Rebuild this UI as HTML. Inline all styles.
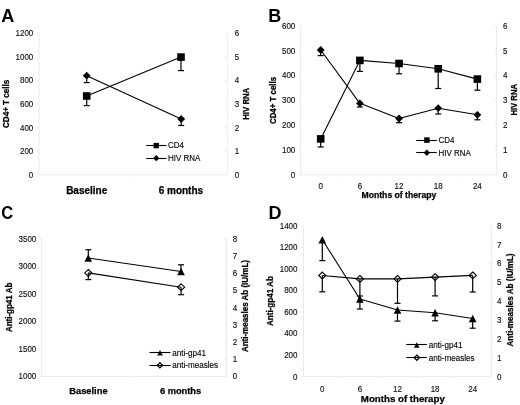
<!DOCTYPE html>
<html><head><meta charset="utf-8"><style>
html,body{margin:0;padding:0;background:#fff;width:520px;height:405px;overflow:hidden}
svg{display:block;font-family:"Liberation Sans",sans-serif;filter:blur(0.35px)}
text{stroke:#000;stroke-width:0.12px}
text[font-weight=bold]{stroke-width:0.25px}
text.big{stroke:none}
</style></head><body>
<svg width="520" height="405" viewBox="0 0 520 405">
<rect width="520" height="405" fill="#fff"/>
<text x="1.25" y="21.5" text-anchor="start" font-size="18" font-weight="bold" class="big" fill="#000">A</text>
<line x1="39.00" y1="33.30" x2="39.00" y2="174.80" stroke="#ebebeb" stroke-width="1"/>
<line x1="227.30" y1="33.30" x2="227.30" y2="174.80" stroke="#ebebeb" stroke-width="1"/>
<line x1="39.00" y1="174.80" x2="227.30" y2="174.80" stroke="#ebebeb" stroke-width="1"/>
<line x1="36.50" y1="174.80" x2="39.00" y2="174.80" stroke="#ebebeb" stroke-width="1"/>
<text transform="translate(33.3,177.7) scale(1,1.1)" text-anchor="end" font-size="8" font-weight="normal" fill="#111">0</text>
<line x1="36.50" y1="151.22" x2="39.00" y2="151.22" stroke="#ebebeb" stroke-width="1"/>
<text transform="translate(33.3,154.12) scale(1,1.1)" text-anchor="end" font-size="8" font-weight="normal" fill="#111">200</text>
<line x1="36.50" y1="127.63" x2="39.00" y2="127.63" stroke="#ebebeb" stroke-width="1"/>
<text transform="translate(33.3,130.53) scale(1,1.1)" text-anchor="end" font-size="8" font-weight="normal" fill="#111">400</text>
<line x1="36.50" y1="104.05" x2="39.00" y2="104.05" stroke="#ebebeb" stroke-width="1"/>
<text transform="translate(33.3,106.95) scale(1,1.1)" text-anchor="end" font-size="8" font-weight="normal" fill="#111">600</text>
<line x1="36.50" y1="80.47" x2="39.00" y2="80.47" stroke="#ebebeb" stroke-width="1"/>
<text transform="translate(33.3,83.37) scale(1,1.1)" text-anchor="end" font-size="8" font-weight="normal" fill="#111">800</text>
<line x1="36.50" y1="56.88" x2="39.00" y2="56.88" stroke="#ebebeb" stroke-width="1"/>
<text transform="translate(33.3,59.78) scale(1,1.1)" text-anchor="end" font-size="8" font-weight="normal" fill="#111">1000</text>
<line x1="36.50" y1="33.30" x2="39.00" y2="33.30" stroke="#ebebeb" stroke-width="1"/>
<text transform="translate(33.3,36.2) scale(1,1.1)" text-anchor="end" font-size="8" font-weight="normal" fill="#111">1200</text>
<line x1="224.80" y1="174.80" x2="227.30" y2="174.80" stroke="#ebebeb" stroke-width="1"/>
<text transform="translate(234.8,177.7) scale(1,1.1)" text-anchor="start" font-size="8" font-weight="normal" fill="#111">0</text>
<line x1="224.80" y1="151.22" x2="227.30" y2="151.22" stroke="#ebebeb" stroke-width="1"/>
<text transform="translate(234.8,154.12) scale(1,1.1)" text-anchor="start" font-size="8" font-weight="normal" fill="#111">1</text>
<line x1="224.80" y1="127.63" x2="227.30" y2="127.63" stroke="#ebebeb" stroke-width="1"/>
<text transform="translate(234.8,130.53) scale(1,1.1)" text-anchor="start" font-size="8" font-weight="normal" fill="#111">2</text>
<line x1="224.80" y1="104.05" x2="227.30" y2="104.05" stroke="#ebebeb" stroke-width="1"/>
<text transform="translate(234.8,106.95) scale(1,1.1)" text-anchor="start" font-size="8" font-weight="normal" fill="#111">3</text>
<line x1="224.80" y1="80.47" x2="227.30" y2="80.47" stroke="#ebebeb" stroke-width="1"/>
<text transform="translate(234.8,83.37) scale(1,1.1)" text-anchor="start" font-size="8" font-weight="normal" fill="#111">4</text>
<line x1="224.80" y1="56.88" x2="227.30" y2="56.88" stroke="#ebebeb" stroke-width="1"/>
<text transform="translate(234.8,59.78) scale(1,1.1)" text-anchor="start" font-size="8" font-weight="normal" fill="#111">5</text>
<line x1="224.80" y1="33.30" x2="227.30" y2="33.30" stroke="#ebebeb" stroke-width="1"/>
<text transform="translate(234.8,36.2) scale(1,1.1)" text-anchor="start" font-size="8" font-weight="normal" fill="#111">6</text>
<line x1="133.20" y1="174.80" x2="133.20" y2="177.30" stroke="#ebebeb" stroke-width="1"/>
<text x="86.7" y="194.2" text-anchor="middle" font-size="10" font-weight="bold" fill="#000">Baseline</text>
<text x="180.9" y="194.2" text-anchor="middle" font-size="10" font-weight="bold" fill="#000">6 months</text>
<text transform="translate(9.0,103.9) rotate(-90) scale(1,1.06)" text-anchor="middle" font-size="8.1" font-weight="bold" fill="#000">CD4+ T cells</text>
<text transform="translate(249.3,103.75) rotate(-90) scale(1,1.06)" text-anchor="middle" font-size="7.8" font-weight="bold" fill="#000">HIV RNA</text>
<line x1="86.70" y1="96.00" x2="86.70" y2="105.60" stroke="#000" stroke-width="1.2"/>
<line x1="83.70" y1="105.60" x2="89.70" y2="105.60" stroke="#000" stroke-width="1.2"/>
<line x1="181.00" y1="57.10" x2="181.00" y2="70.60" stroke="#000" stroke-width="1.2"/>
<line x1="178.00" y1="70.60" x2="184.00" y2="70.60" stroke="#000" stroke-width="1.2"/>
<line x1="86.70" y1="75.70" x2="86.70" y2="82.60" stroke="#000" stroke-width="1.2"/>
<line x1="83.70" y1="82.60" x2="89.70" y2="82.60" stroke="#000" stroke-width="1.2"/>
<line x1="181.20" y1="119.00" x2="181.20" y2="125.50" stroke="#000" stroke-width="1.2"/>
<line x1="178.20" y1="125.50" x2="184.20" y2="125.50" stroke="#000" stroke-width="1.2"/>
<polyline points="86.70,96.00 181.00,57.10" fill="none" stroke="#000" stroke-width="1.1" stroke-linejoin="round"/>
<polyline points="86.70,75.70 181.20,119.00" fill="none" stroke="#000" stroke-width="1.1" stroke-linejoin="round"/>
<rect x="82.90" y="92.20" width="7.6" height="7.6" fill="#000"/>
<rect x="177.20" y="53.30" width="7.6" height="7.6" fill="#000"/>
<polygon points="86.70,71.80 90.60,75.70 86.70,79.60 82.80,75.70" fill="#000"/>
<polygon points="181.20,115.10 185.10,119.00 181.20,122.90 177.30,119.00" fill="#000"/>
<line x1="146.20" y1="145.50" x2="166.50" y2="145.50" stroke="#000" stroke-width="1.1"/>
<rect x="153.60" y="142.90" width="5.4" height="5.4" fill="#000"/>
<text transform="translate(168,148.3) scale(1,1.1)" text-anchor="start" font-size="8" font-weight="normal" fill="#000">CD4</text>
<line x1="146.20" y1="158.50" x2="166.50" y2="158.50" stroke="#000" stroke-width="1.1"/>
<polygon points="156.30,155.10 159.40,158.20 156.30,161.30 153.20,158.20" fill="#000"/>
<text transform="translate(168,161.4) scale(1,1.1)" text-anchor="start" font-size="8" font-weight="normal" fill="#000">HIV RNA</text>
<text x="268.2" y="21.7" text-anchor="start" font-size="18" font-weight="bold" class="big" fill="#000">B</text>
<line x1="300.70" y1="25.90" x2="300.70" y2="174.80" stroke="#ebebeb" stroke-width="1"/>
<line x1="496.60" y1="25.90" x2="496.60" y2="174.80" stroke="#ebebeb" stroke-width="1"/>
<line x1="300.70" y1="174.80" x2="496.60" y2="174.80" stroke="#ebebeb" stroke-width="1"/>
<line x1="298.20" y1="174.80" x2="300.70" y2="174.80" stroke="#ebebeb" stroke-width="1"/>
<text transform="translate(295.3,177.7) scale(1,1.1)" text-anchor="end" font-size="8" font-weight="normal" fill="#111">0</text>
<line x1="298.20" y1="149.98" x2="300.70" y2="149.98" stroke="#ebebeb" stroke-width="1"/>
<text transform="translate(295.3,152.88) scale(1,1.1)" text-anchor="end" font-size="8" font-weight="normal" fill="#111">100</text>
<line x1="298.20" y1="125.17" x2="300.70" y2="125.17" stroke="#ebebeb" stroke-width="1"/>
<text transform="translate(295.3,128.07) scale(1,1.1)" text-anchor="end" font-size="8" font-weight="normal" fill="#111">200</text>
<line x1="298.20" y1="100.35" x2="300.70" y2="100.35" stroke="#ebebeb" stroke-width="1"/>
<text transform="translate(295.3,103.25) scale(1,1.1)" text-anchor="end" font-size="8" font-weight="normal" fill="#111">300</text>
<line x1="298.20" y1="75.53" x2="300.70" y2="75.53" stroke="#ebebeb" stroke-width="1"/>
<text transform="translate(295.3,78.43) scale(1,1.1)" text-anchor="end" font-size="8" font-weight="normal" fill="#111">400</text>
<line x1="298.20" y1="50.72" x2="300.70" y2="50.72" stroke="#ebebeb" stroke-width="1"/>
<text transform="translate(295.3,53.62) scale(1,1.1)" text-anchor="end" font-size="8" font-weight="normal" fill="#111">500</text>
<line x1="298.20" y1="25.90" x2="300.70" y2="25.90" stroke="#ebebeb" stroke-width="1"/>
<text transform="translate(295.3,28.8) scale(1,1.1)" text-anchor="end" font-size="8" font-weight="normal" fill="#111">600</text>
<line x1="494.10" y1="174.80" x2="496.60" y2="174.80" stroke="#ebebeb" stroke-width="1"/>
<text transform="translate(503.0,177.7) scale(1,1.1)" text-anchor="start" font-size="8" font-weight="normal" fill="#111">0</text>
<line x1="494.10" y1="149.98" x2="496.60" y2="149.98" stroke="#ebebeb" stroke-width="1"/>
<text transform="translate(503.0,152.88) scale(1,1.1)" text-anchor="start" font-size="8" font-weight="normal" fill="#111">1</text>
<line x1="494.10" y1="125.17" x2="496.60" y2="125.17" stroke="#ebebeb" stroke-width="1"/>
<text transform="translate(503.0,128.07) scale(1,1.1)" text-anchor="start" font-size="8" font-weight="normal" fill="#111">2</text>
<line x1="494.10" y1="100.35" x2="496.60" y2="100.35" stroke="#ebebeb" stroke-width="1"/>
<text transform="translate(503.0,103.25) scale(1,1.1)" text-anchor="start" font-size="8" font-weight="normal" fill="#111">3</text>
<line x1="494.10" y1="75.53" x2="496.60" y2="75.53" stroke="#ebebeb" stroke-width="1"/>
<text transform="translate(503.0,78.43) scale(1,1.1)" text-anchor="start" font-size="8" font-weight="normal" fill="#111">4</text>
<line x1="494.10" y1="50.72" x2="496.60" y2="50.72" stroke="#ebebeb" stroke-width="1"/>
<text transform="translate(503.0,53.62) scale(1,1.1)" text-anchor="start" font-size="8" font-weight="normal" fill="#111">5</text>
<line x1="494.10" y1="25.90" x2="496.60" y2="25.90" stroke="#ebebeb" stroke-width="1"/>
<text transform="translate(503.0,28.8) scale(1,1.1)" text-anchor="start" font-size="8" font-weight="normal" fill="#111">6</text>
<line x1="339.88" y1="174.80" x2="339.88" y2="177.30" stroke="#ebebeb" stroke-width="1"/>
<line x1="379.06" y1="174.80" x2="379.06" y2="177.30" stroke="#ebebeb" stroke-width="1"/>
<line x1="418.24" y1="174.80" x2="418.24" y2="177.30" stroke="#ebebeb" stroke-width="1"/>
<line x1="457.42" y1="174.80" x2="457.42" y2="177.30" stroke="#ebebeb" stroke-width="1"/>
<text transform="translate(320.7,189.2) scale(1,1.1)" text-anchor="middle" font-size="8" font-weight="normal" fill="#111">0</text>
<text transform="translate(359.87,189.2) scale(1,1.1)" text-anchor="middle" font-size="8" font-weight="normal" fill="#111">6</text>
<text transform="translate(399.04,189.2) scale(1,1.1)" text-anchor="middle" font-size="8" font-weight="normal" fill="#111">12</text>
<text transform="translate(438.21,189.2) scale(1,1.1)" text-anchor="middle" font-size="8" font-weight="normal" fill="#111">18</text>
<text transform="translate(477.38,189.2) scale(1,1.1)" text-anchor="middle" font-size="8" font-weight="normal" fill="#111">24</text>
<text x="398.9" y="198.1" text-anchor="middle" font-size="8.65" font-weight="bold" fill="#000">Months of therapy</text>
<text transform="translate(275.8,100.5) rotate(-90) scale(1,1.06)" text-anchor="middle" font-size="7.9" font-weight="bold" fill="#000">CD4+ T cells</text>
<text transform="translate(517.4,99.8) rotate(-90) scale(1,1.06)" text-anchor="middle" font-size="7.7" font-weight="bold" fill="#000">HIV RNA</text>
<line x1="320.70" y1="138.90" x2="320.70" y2="147.00" stroke="#000" stroke-width="1.2"/>
<line x1="317.70" y1="147.00" x2="323.70" y2="147.00" stroke="#000" stroke-width="1.2"/>
<line x1="359.87" y1="60.40" x2="359.87" y2="71.40" stroke="#000" stroke-width="1.2"/>
<line x1="356.87" y1="71.40" x2="362.87" y2="71.40" stroke="#000" stroke-width="1.2"/>
<line x1="399.04" y1="63.50" x2="399.04" y2="73.80" stroke="#000" stroke-width="1.2"/>
<line x1="396.04" y1="73.80" x2="402.04" y2="73.80" stroke="#000" stroke-width="1.2"/>
<line x1="438.21" y1="68.80" x2="438.21" y2="88.50" stroke="#000" stroke-width="1.2"/>
<line x1="435.21" y1="88.50" x2="441.21" y2="88.50" stroke="#000" stroke-width="1.2"/>
<line x1="477.38" y1="79.10" x2="477.38" y2="90.20" stroke="#000" stroke-width="1.2"/>
<line x1="474.38" y1="90.20" x2="480.38" y2="90.20" stroke="#000" stroke-width="1.2"/>
<line x1="320.70" y1="50.00" x2="320.70" y2="55.60" stroke="#000" stroke-width="1.2"/>
<line x1="317.70" y1="55.60" x2="323.70" y2="55.60" stroke="#000" stroke-width="1.2"/>
<line x1="359.87" y1="103.30" x2="359.87" y2="107.00" stroke="#000" stroke-width="1.2"/>
<line x1="356.87" y1="107.00" x2="362.87" y2="107.00" stroke="#000" stroke-width="1.2"/>
<line x1="399.04" y1="118.50" x2="399.04" y2="122.70" stroke="#000" stroke-width="1.2"/>
<line x1="396.04" y1="122.70" x2="402.04" y2="122.70" stroke="#000" stroke-width="1.2"/>
<line x1="438.21" y1="108.20" x2="438.21" y2="114.00" stroke="#000" stroke-width="1.2"/>
<line x1="435.21" y1="114.00" x2="441.21" y2="114.00" stroke="#000" stroke-width="1.2"/>
<line x1="477.38" y1="114.80" x2="477.38" y2="119.80" stroke="#000" stroke-width="1.2"/>
<line x1="474.38" y1="119.80" x2="480.38" y2="119.80" stroke="#000" stroke-width="1.2"/>
<polyline points="320.70,138.90 359.87,60.40 399.04,63.50 438.21,68.80 477.38,79.10" fill="none" stroke="#000" stroke-width="1.1" stroke-linejoin="round"/>
<polyline points="320.70,50.00 359.87,103.30 399.04,118.50 438.21,108.20 477.38,114.80" fill="none" stroke="#000" stroke-width="1.1" stroke-linejoin="round"/>
<rect x="316.90" y="135.10" width="7.6" height="7.6" fill="#000"/>
<rect x="356.07" y="56.60" width="7.6" height="7.6" fill="#000"/>
<rect x="395.24" y="59.70" width="7.6" height="7.6" fill="#000"/>
<rect x="434.41" y="65.00" width="7.6" height="7.6" fill="#000"/>
<rect x="473.58" y="75.30" width="7.6" height="7.6" fill="#000"/>
<polygon points="320.70,46.10 324.60,50.00 320.70,53.90 316.80,50.00" fill="#000"/>
<polygon points="359.87,99.40 363.77,103.30 359.87,107.20 355.97,103.30" fill="#000"/>
<polygon points="399.04,114.60 402.94,118.50 399.04,122.40 395.14,118.50" fill="#000"/>
<polygon points="438.21,104.30 442.11,108.20 438.21,112.10 434.31,108.20" fill="#000"/>
<polygon points="477.38,110.90 481.28,114.80 477.38,118.70 473.48,114.80" fill="#000"/>
<line x1="416.20" y1="140.50" x2="436.80" y2="140.50" stroke="#000" stroke-width="1.1"/>
<rect x="424.15" y="137.35" width="5.5" height="5.5" fill="#000"/>
<text transform="translate(438.5,143.4) scale(1,1.1)" text-anchor="start" font-size="8" font-weight="normal" fill="#000">CD4</text>
<line x1="416.20" y1="152.50" x2="436.80" y2="152.50" stroke="#000" stroke-width="1.1"/>
<polygon points="426.80,149.50 430.00,152.70 426.80,155.90 423.60,152.70" fill="#000"/>
<text transform="translate(438.5,155.6) scale(1,1.1)" text-anchor="start" font-size="8" font-weight="normal" fill="#000">HIV RNA</text>
<text transform="translate(1.2,219.4) scale(0.92,1)" font-size="18" font-weight="bold" class="big">C</text>
<line x1="41.40" y1="238.80" x2="41.40" y2="376.40" stroke="#ebebeb" stroke-width="1"/>
<line x1="226.60" y1="238.80" x2="226.60" y2="376.40" stroke="#ebebeb" stroke-width="1"/>
<line x1="41.40" y1="376.40" x2="226.60" y2="376.40" stroke="#ebebeb" stroke-width="1"/>
<line x1="38.90" y1="376.40" x2="41.40" y2="376.40" stroke="#ebebeb" stroke-width="1"/>
<text transform="translate(36.3,379.3) scale(1,1.1)" text-anchor="end" font-size="8" font-weight="normal" fill="#111">1000</text>
<line x1="38.90" y1="348.88" x2="41.40" y2="348.88" stroke="#ebebeb" stroke-width="1"/>
<text transform="translate(36.3,351.78) scale(1,1.1)" text-anchor="end" font-size="8" font-weight="normal" fill="#111">1500</text>
<line x1="38.90" y1="321.36" x2="41.40" y2="321.36" stroke="#ebebeb" stroke-width="1"/>
<text transform="translate(36.3,324.26) scale(1,1.1)" text-anchor="end" font-size="8" font-weight="normal" fill="#111">2000</text>
<line x1="38.90" y1="293.84" x2="41.40" y2="293.84" stroke="#ebebeb" stroke-width="1"/>
<text transform="translate(36.3,296.74) scale(1,1.1)" text-anchor="end" font-size="8" font-weight="normal" fill="#111">2500</text>
<line x1="38.90" y1="266.32" x2="41.40" y2="266.32" stroke="#ebebeb" stroke-width="1"/>
<text transform="translate(36.3,269.22) scale(1,1.1)" text-anchor="end" font-size="8" font-weight="normal" fill="#111">3000</text>
<line x1="38.90" y1="238.80" x2="41.40" y2="238.80" stroke="#ebebeb" stroke-width="1"/>
<text transform="translate(36.3,241.7) scale(1,1.1)" text-anchor="end" font-size="8" font-weight="normal" fill="#111">3500</text>
<line x1="224.10" y1="376.40" x2="226.60" y2="376.40" stroke="#ebebeb" stroke-width="1"/>
<text transform="translate(232.8,379.3) scale(1,1.1)" text-anchor="start" font-size="8" font-weight="normal" fill="#111">0</text>
<line x1="224.10" y1="359.20" x2="226.60" y2="359.20" stroke="#ebebeb" stroke-width="1"/>
<text transform="translate(232.8,362.1) scale(1,1.1)" text-anchor="start" font-size="8" font-weight="normal" fill="#111">1</text>
<line x1="224.10" y1="342.00" x2="226.60" y2="342.00" stroke="#ebebeb" stroke-width="1"/>
<text transform="translate(232.8,344.9) scale(1,1.1)" text-anchor="start" font-size="8" font-weight="normal" fill="#111">2</text>
<line x1="224.10" y1="324.80" x2="226.60" y2="324.80" stroke="#ebebeb" stroke-width="1"/>
<text transform="translate(232.8,327.7) scale(1,1.1)" text-anchor="start" font-size="8" font-weight="normal" fill="#111">3</text>
<line x1="224.10" y1="307.60" x2="226.60" y2="307.60" stroke="#ebebeb" stroke-width="1"/>
<text transform="translate(232.8,310.5) scale(1,1.1)" text-anchor="start" font-size="8" font-weight="normal" fill="#111">4</text>
<line x1="224.10" y1="290.40" x2="226.60" y2="290.40" stroke="#ebebeb" stroke-width="1"/>
<text transform="translate(232.8,293.3) scale(1,1.1)" text-anchor="start" font-size="8" font-weight="normal" fill="#111">5</text>
<line x1="224.10" y1="273.20" x2="226.60" y2="273.20" stroke="#ebebeb" stroke-width="1"/>
<text transform="translate(232.8,276.1) scale(1,1.1)" text-anchor="start" font-size="8" font-weight="normal" fill="#111">6</text>
<line x1="224.10" y1="256.00" x2="226.60" y2="256.00" stroke="#ebebeb" stroke-width="1"/>
<text transform="translate(232.8,258.9) scale(1,1.1)" text-anchor="start" font-size="8" font-weight="normal" fill="#111">7</text>
<line x1="224.10" y1="238.80" x2="226.60" y2="238.80" stroke="#ebebeb" stroke-width="1"/>
<text transform="translate(232.8,241.7) scale(1,1.1)" text-anchor="start" font-size="8" font-weight="normal" fill="#111">8</text>
<line x1="133.60" y1="376.40" x2="133.60" y2="378.90" stroke="#ebebeb" stroke-width="1"/>
<text x="88.45" y="394.2" text-anchor="middle" font-size="9.3" font-weight="bold" fill="#000">Baseline</text>
<text x="180.55" y="394.3" text-anchor="middle" font-size="9.3" font-weight="bold" fill="#000">6 months</text>
<text transform="translate(12.0,307.4) rotate(-90) scale(1,1.06)" text-anchor="middle" font-size="8.0" font-weight="bold" fill="#000">Anti-gp41 Ab</text>
<text transform="translate(248.1,306.05) rotate(-90) scale(1,1.06)" text-anchor="middle" font-size="8.0" font-weight="bold" fill="#000">Anti-measles Ab (IU/mL)</text>
<line x1="88.30" y1="258.00" x2="88.30" y2="249.70" stroke="#000" stroke-width="1.2"/>
<line x1="85.30" y1="249.70" x2="91.30" y2="249.70" stroke="#000" stroke-width="1.2"/>
<line x1="181.00" y1="271.50" x2="181.00" y2="264.80" stroke="#000" stroke-width="1.2"/>
<line x1="178.00" y1="264.80" x2="184.00" y2="264.80" stroke="#000" stroke-width="1.2"/>
<line x1="88.30" y1="272.90" x2="88.30" y2="279.60" stroke="#000" stroke-width="1.2"/>
<line x1="85.30" y1="279.60" x2="91.30" y2="279.60" stroke="#000" stroke-width="1.2"/>
<line x1="181.10" y1="287.20" x2="181.10" y2="294.70" stroke="#000" stroke-width="1.2"/>
<line x1="178.10" y1="294.70" x2="184.10" y2="294.70" stroke="#000" stroke-width="1.2"/>
<polyline points="88.30,258.00 181.00,271.50" fill="none" stroke="#000" stroke-width="1.1" stroke-linejoin="round"/>
<polyline points="88.30,272.90 181.10,287.20" fill="none" stroke="#000" stroke-width="1.1" stroke-linejoin="round"/>
<polygon points="88.30,254.20 92.10,261.80 84.50,261.80" fill="#000"/>
<polygon points="181.00,267.70 184.80,275.30 177.20,275.30" fill="#000"/>
<polygon points="88.30,269.50 91.90,272.90 88.30,276.30 84.70,272.90" fill="none" stroke="#000" stroke-width="1.1"/>
<polygon points="181.10,283.80 184.70,287.20 181.10,290.60 177.50,287.20" fill="none" stroke="#000" stroke-width="1.1"/>
<line x1="149.50" y1="352.50" x2="170.50" y2="352.50" stroke="#000" stroke-width="1.1"/>
<polygon points="160.00,349.90 162.80,355.50 157.20,355.50" fill="#000"/>
<text transform="translate(172.2,355.9) scale(1,1.1)" text-anchor="start" font-size="8.1" font-weight="normal" fill="#000">anti-gp41</text>
<line x1="149.50" y1="365.50" x2="170.50" y2="365.50" stroke="#000" stroke-width="1.1"/>
<polygon points="159.90,362.60 162.50,365.30 159.90,368.00 157.30,365.30" fill="none" stroke="#000" stroke-width="1.2"/>
<text transform="translate(172.2,368.4) scale(1,1.1)" text-anchor="start" font-size="8.1" font-weight="normal" fill="#000">anti-measles</text>
<text x="268.6" y="219.3" text-anchor="start" font-size="18" font-weight="bold" class="big" fill="#000">D</text>
<line x1="303.50" y1="225.90" x2="303.50" y2="376.60" stroke="#ebebeb" stroke-width="1"/>
<line x1="491.50" y1="225.90" x2="491.50" y2="376.60" stroke="#ebebeb" stroke-width="1"/>
<line x1="303.50" y1="376.60" x2="491.50" y2="376.60" stroke="#ebebeb" stroke-width="1"/>
<line x1="301.00" y1="376.60" x2="303.50" y2="376.60" stroke="#ebebeb" stroke-width="1"/>
<text transform="translate(297.5,379.5) scale(1,1.1)" text-anchor="end" font-size="8" font-weight="normal" fill="#111">0</text>
<line x1="301.00" y1="355.07" x2="303.50" y2="355.07" stroke="#ebebeb" stroke-width="1"/>
<text transform="translate(297.5,357.97) scale(1,1.1)" text-anchor="end" font-size="8" font-weight="normal" fill="#111">200</text>
<line x1="301.00" y1="333.54" x2="303.50" y2="333.54" stroke="#ebebeb" stroke-width="1"/>
<text transform="translate(297.5,336.44) scale(1,1.1)" text-anchor="end" font-size="8" font-weight="normal" fill="#111">400</text>
<line x1="301.00" y1="312.01" x2="303.50" y2="312.01" stroke="#ebebeb" stroke-width="1"/>
<text transform="translate(297.5,314.91) scale(1,1.1)" text-anchor="end" font-size="8" font-weight="normal" fill="#111">600</text>
<line x1="301.00" y1="290.49" x2="303.50" y2="290.49" stroke="#ebebeb" stroke-width="1"/>
<text transform="translate(297.5,293.39) scale(1,1.1)" text-anchor="end" font-size="8" font-weight="normal" fill="#111">800</text>
<line x1="301.00" y1="268.96" x2="303.50" y2="268.96" stroke="#ebebeb" stroke-width="1"/>
<text transform="translate(297.5,271.86) scale(1,1.1)" text-anchor="end" font-size="8" font-weight="normal" fill="#111">1000</text>
<line x1="301.00" y1="247.43" x2="303.50" y2="247.43" stroke="#ebebeb" stroke-width="1"/>
<text transform="translate(297.5,250.33) scale(1,1.1)" text-anchor="end" font-size="8" font-weight="normal" fill="#111">1200</text>
<line x1="301.00" y1="225.90" x2="303.50" y2="225.90" stroke="#ebebeb" stroke-width="1"/>
<text transform="translate(297.5,228.8) scale(1,1.1)" text-anchor="end" font-size="8" font-weight="normal" fill="#111">1400</text>
<line x1="489.00" y1="376.60" x2="491.50" y2="376.60" stroke="#ebebeb" stroke-width="1"/>
<text transform="translate(497.1,379.5) scale(1,1.1)" text-anchor="start" font-size="8" font-weight="normal" fill="#111">0</text>
<line x1="489.00" y1="357.76" x2="491.50" y2="357.76" stroke="#ebebeb" stroke-width="1"/>
<text transform="translate(497.1,360.66) scale(1,1.1)" text-anchor="start" font-size="8" font-weight="normal" fill="#111">1</text>
<line x1="489.00" y1="338.93" x2="491.50" y2="338.93" stroke="#ebebeb" stroke-width="1"/>
<text transform="translate(497.1,341.82) scale(1,1.1)" text-anchor="start" font-size="8" font-weight="normal" fill="#111">2</text>
<line x1="489.00" y1="320.09" x2="491.50" y2="320.09" stroke="#ebebeb" stroke-width="1"/>
<text transform="translate(497.1,322.99) scale(1,1.1)" text-anchor="start" font-size="8" font-weight="normal" fill="#111">3</text>
<line x1="489.00" y1="301.25" x2="491.50" y2="301.25" stroke="#ebebeb" stroke-width="1"/>
<text transform="translate(497.1,304.15) scale(1,1.1)" text-anchor="start" font-size="8" font-weight="normal" fill="#111">4</text>
<line x1="489.00" y1="282.41" x2="491.50" y2="282.41" stroke="#ebebeb" stroke-width="1"/>
<text transform="translate(497.1,285.31) scale(1,1.1)" text-anchor="start" font-size="8" font-weight="normal" fill="#111">5</text>
<line x1="489.00" y1="263.58" x2="491.50" y2="263.58" stroke="#ebebeb" stroke-width="1"/>
<text transform="translate(497.1,266.48) scale(1,1.1)" text-anchor="start" font-size="8" font-weight="normal" fill="#111">6</text>
<line x1="489.00" y1="244.74" x2="491.50" y2="244.74" stroke="#ebebeb" stroke-width="1"/>
<text transform="translate(497.1,247.64) scale(1,1.1)" text-anchor="start" font-size="8" font-weight="normal" fill="#111">7</text>
<line x1="489.00" y1="225.90" x2="491.50" y2="225.90" stroke="#ebebeb" stroke-width="1"/>
<text transform="translate(497.1,228.8) scale(1,1.1)" text-anchor="start" font-size="8" font-weight="normal" fill="#111">8</text>
<text transform="translate(322.3,391.5) scale(1,1.1)" text-anchor="middle" font-size="8" font-weight="normal" fill="#111">0</text>
<text transform="translate(359.9,391.5) scale(1,1.1)" text-anchor="middle" font-size="8" font-weight="normal" fill="#111">6</text>
<text transform="translate(397.5,391.5) scale(1,1.1)" text-anchor="middle" font-size="8" font-weight="normal" fill="#111">12</text>
<text transform="translate(435.1,391.5) scale(1,1.1)" text-anchor="middle" font-size="8" font-weight="normal" fill="#111">18</text>
<text transform="translate(472.7,391.5) scale(1,1.1)" text-anchor="middle" font-size="8" font-weight="normal" fill="#111">24</text>
<line x1="341.10" y1="376.60" x2="341.10" y2="379.10" stroke="#ebebeb" stroke-width="1"/>
<line x1="378.70" y1="376.60" x2="378.70" y2="379.10" stroke="#ebebeb" stroke-width="1"/>
<line x1="416.30" y1="376.60" x2="416.30" y2="379.10" stroke="#ebebeb" stroke-width="1"/>
<line x1="453.90" y1="376.60" x2="453.90" y2="379.10" stroke="#ebebeb" stroke-width="1"/>
<text x="402.85" y="402.0" text-anchor="middle" font-size="9.7" font-weight="bold" fill="#000">Months of therapy</text>
<text transform="translate(273.4,301.1) rotate(-90) scale(1,1.06)" text-anchor="middle" font-size="8.1" font-weight="bold" fill="#000">Anti-gp41 Ab</text>
<text transform="translate(513.0,300.0) rotate(-90) scale(1,1.06)" text-anchor="middle" font-size="8.1" font-weight="bold" fill="#000">Anti-measles Ab (IU/mL)</text>
<line x1="322.30" y1="239.70" x2="322.30" y2="260.60" stroke="#000" stroke-width="1.2"/>
<line x1="319.30" y1="260.60" x2="325.30" y2="260.60" stroke="#000" stroke-width="1.2"/>
<line x1="359.90" y1="299.00" x2="359.90" y2="309.00" stroke="#000" stroke-width="1.2"/>
<line x1="356.90" y1="309.00" x2="362.90" y2="309.00" stroke="#000" stroke-width="1.2"/>
<line x1="397.50" y1="310.00" x2="397.50" y2="321.10" stroke="#000" stroke-width="1.2"/>
<line x1="394.50" y1="321.10" x2="400.50" y2="321.10" stroke="#000" stroke-width="1.2"/>
<line x1="435.10" y1="312.70" x2="435.10" y2="320.80" stroke="#000" stroke-width="1.2"/>
<line x1="432.10" y1="320.80" x2="438.10" y2="320.80" stroke="#000" stroke-width="1.2"/>
<line x1="472.70" y1="318.50" x2="472.70" y2="328.20" stroke="#000" stroke-width="1.2"/>
<line x1="469.70" y1="328.20" x2="475.70" y2="328.20" stroke="#000" stroke-width="1.2"/>
<line x1="322.30" y1="275.50" x2="322.30" y2="291.80" stroke="#000" stroke-width="1.2"/>
<line x1="319.30" y1="291.80" x2="325.30" y2="291.80" stroke="#000" stroke-width="1.2"/>
<line x1="359.90" y1="278.90" x2="359.90" y2="296.00" stroke="#000" stroke-width="1.2"/>
<line x1="356.90" y1="296.00" x2="362.90" y2="296.00" stroke="#000" stroke-width="1.2"/>
<line x1="397.50" y1="278.90" x2="397.50" y2="303.30" stroke="#000" stroke-width="1.2"/>
<line x1="394.50" y1="303.30" x2="400.50" y2="303.30" stroke="#000" stroke-width="1.2"/>
<line x1="435.10" y1="277.10" x2="435.10" y2="295.90" stroke="#000" stroke-width="1.2"/>
<line x1="432.10" y1="295.90" x2="438.10" y2="295.90" stroke="#000" stroke-width="1.2"/>
<line x1="472.70" y1="275.40" x2="472.70" y2="292.00" stroke="#000" stroke-width="1.2"/>
<line x1="469.70" y1="292.00" x2="475.70" y2="292.00" stroke="#000" stroke-width="1.2"/>
<polyline points="322.30,239.70 359.90,299.00 397.50,310.00 435.10,312.70 472.70,318.50" fill="none" stroke="#000" stroke-width="1.1" stroke-linejoin="round"/>
<polyline points="322.30,275.50 359.90,278.90 397.50,278.90 435.10,277.10 472.70,275.40" fill="none" stroke="#000" stroke-width="1.1" stroke-linejoin="round"/>
<polygon points="322.30,235.90 326.10,243.50 318.50,243.50" fill="#000"/>
<polygon points="359.90,295.20 363.70,302.80 356.10,302.80" fill="#000"/>
<polygon points="397.50,306.20 401.30,313.80 393.70,313.80" fill="#000"/>
<polygon points="435.10,308.90 438.90,316.50 431.30,316.50" fill="#000"/>
<polygon points="472.70,314.70 476.50,322.30 468.90,322.30" fill="#000"/>
<polygon points="322.30,272.10 325.90,275.50 322.30,278.90 318.70,275.50" fill="none" stroke="#000" stroke-width="1.1"/>
<polygon points="359.90,275.50 363.50,278.90 359.90,282.30 356.30,278.90" fill="none" stroke="#000" stroke-width="1.1"/>
<polygon points="397.50,275.50 401.10,278.90 397.50,282.30 393.90,278.90" fill="none" stroke="#000" stroke-width="1.1"/>
<polygon points="435.10,273.70 438.70,277.10 435.10,280.50 431.50,277.10" fill="none" stroke="#000" stroke-width="1.1"/>
<polygon points="472.70,272.00 476.30,275.40 472.70,278.80 469.10,275.40" fill="none" stroke="#000" stroke-width="1.1"/>
<line x1="406.20" y1="344.50" x2="426.80" y2="344.50" stroke="#000" stroke-width="1.1"/>
<polygon points="416.70,342.15 419.45,347.65 413.95,347.65" fill="#000"/>
<text transform="translate(428.8,347.8) scale(1,1.1)" text-anchor="start" font-size="8.1" font-weight="normal" fill="#000">anti-gp41</text>
<line x1="406.20" y1="357.50" x2="426.80" y2="357.50" stroke="#000" stroke-width="1.1"/>
<polygon points="416.80,355.00 419.40,357.70 416.80,360.40 414.20,357.70" fill="none" stroke="#000" stroke-width="1.2"/>
<text transform="translate(428.8,360.7) scale(1,1.1)" text-anchor="start" font-size="8.1" font-weight="normal" fill="#000">anti-measles</text>
</svg>
</body></html>
